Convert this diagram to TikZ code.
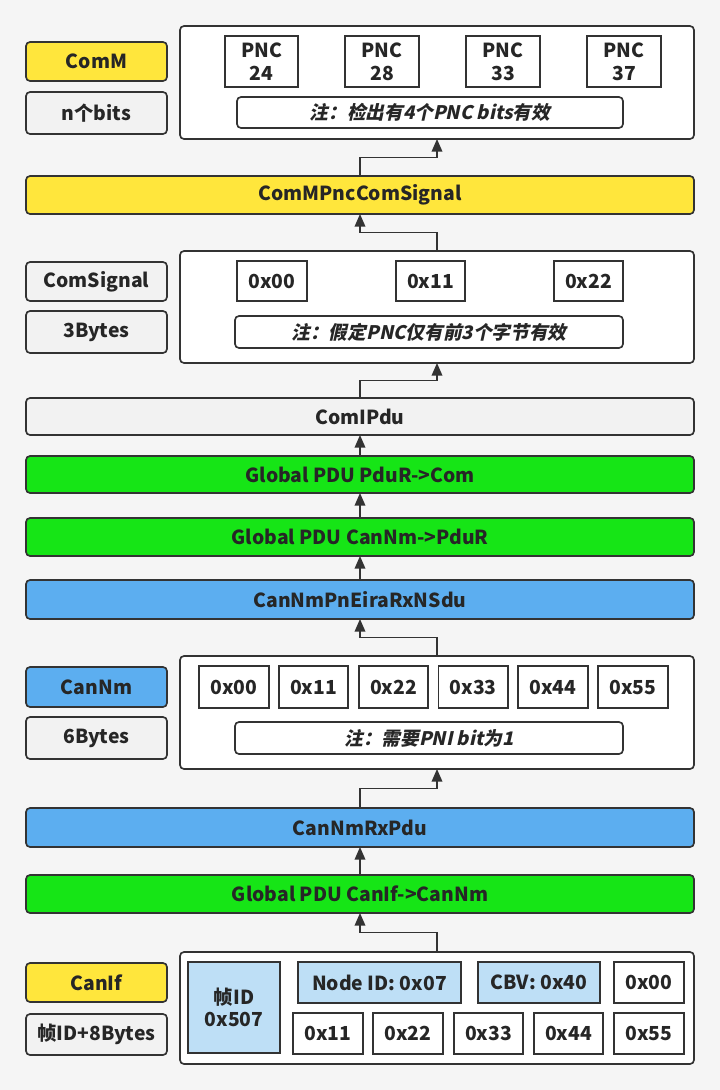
\documentclass[tikz,border=0pt]{standalone}
\usepackage{fontspec}
\setmainfont{Noto Sans CJK SC}
\newfontfamily\notefam[FakeSlant=0.22]{Noto Sans CJK SC}
\usetikzlibrary{arrows.meta,calc}
\definecolor{bgc}{HTML}{F5F5F5}
\definecolor{lc}{HTML}{333333}
\definecolor{tc}{HTML}{262626}
\definecolor{cyel}{HTML}{FFE63C}
\definecolor{cgry}{HTML}{F2F2F2}
\definecolor{cgrn}{HTML}{16E516}
\definecolor{cblu}{HTML}{5CAEF0}
\definecolor{clb}{HTML}{BEDFF6}
\newcommand\mybox[7]{\node[#1, minimum width={(#5-#3)*0.75pt}, minimum height={(#6-#4)*0.75pt}] (#2) at ({(#3+#5)/2},{(#4+#6)/2}) {#7};}
\tikzset{
  base/.style={draw=lc, line width=1.25pt, rounded corners=3pt, inner sep=0pt, outer sep=0pt, text=tc, align=center, font=\fontsize{14.5}{17}\selectfont\bfseries},
  ylw/.style={base, fill=cyel},
  gry/.style={base, fill=cgry},
  grn/.style={base, fill=cgrn},
  blu/.style={base, fill=cblu},
  cont/.style={base, fill=white},
  cell/.style={base, fill=white, rounded corners=0pt},
  lcell/.style={cell, fill=clb},
  notebox/.style={base, fill=white, font=\notefam\fontsize{14}{17}\selectfont\bfseries},
  arr/.style={draw=lc, line width=1.1pt, -{Triangle[width=8pt,length=9.5pt]}}
}
\begin{document}
\begin{tikzpicture}[x=0.75pt,y=-0.75pt]
\fill[bgc] (0,0) rectangle (720,1090);
\useasboundingbox (0,0) rectangle (720,1090);
% ComM layer
\mybox{cont}{topc}{180}{26}{694}{139}{}
\mybox{cell}{p24}{225}{36}{298}{87}{PNC\\24}
\mybox{cell}{p28}{345}{36}{419}{87}{PNC\\28}
\mybox{cell}{p33}{466}{36}{540}{87}{PNC\\33}
\mybox{cell}{p37}{587}{36}{661}{87}{PNC\\37}
\mybox{notebox}{n1}{237}{97}{623}{128}{注：检出有4个PNC bits有效}
\mybox{ylw}{comm}{26}{42}{167}{81}{ComM}
\mybox{gry}{nbits}{26}{92}{167}{134}{n个bits}
\mybox{ylw}{cms}{26}{176}{694}{214}{ComMPncComSignal}
% ComSignal layer
\mybox{cont}{csc}{180}{251}{694}{363}{}
\mybox{cell}{s00}{237}{261}{307}{301}{0x00}
\mybox{cell}{s11}{396}{261}{465}{301}{0x11}
\mybox{cell}{s22}{554}{261}{623}{301}{0x22}
\mybox{notebox}{n2}{235}{316}{623}{348}{注：假定PNC仅有前3个字节有效}
\mybox{gry}{csig}{26}{262}{167}{301}{ComSignal}
\mybox{gry}{b3}{26}{311}{167}{353}{3Bytes}
\mybox{gry}{cipdu}{26}{398}{694}{435}{ComIPdu}
\mybox{grn}{g1}{26}{456}{694}{493}{Global PDU PduR->Com}
\mybox{grn}{g2}{26}{518}{694}{556}{Global PDU CanNm->PduR}
\mybox{blu}{nsdu}{26}{580}{694}{619}{CanNmPnEiraRxNSdu}
% CanNm layer
\mybox{cont}{cnc}{180}{656}{694}{769}{}
\mybox{cell}{c00}{199}{666}{269}{708}{0x00}
\mybox{cell}{c11}{279}{666}{348}{708}{0x11}
\mybox{cell}{c22}{359}{666}{428}{708}{0x22}
\mybox{cell}{c33}{438.5}{666}{508}{708}{0x33}
\mybox{cell}{c44}{518}{666}{588}{708}{0x44}
\mybox{cell}{c55}{598}{666}{668}{708}{0x55}
\mybox{notebox}{n3}{235}{722}{623}{754}{注：需要PNI bit为1}
\mybox{blu}{cannm}{26}{667}{167}{707}{CanNm}
\mybox{gry}{b6}{26}{717}{167}{759}{6Bytes}
\mybox{blu}{rxpdu}{26}{808}{694}{847}{CanNmRxPdu}
\mybox{grn}{g3}{26}{875}{694}{913}{Global PDU CanIf->CanNm}
% CanIf layer
\mybox{cont}{cic}{180}{952}{694}{1064}{}
\mybox{lcell}{fid}{188}{962}{280}{1053}{帧ID\\0x507}
\mybox{lcell}{nid}{298}{962}{461}{1003}{Node ID: 0x07}
\mybox{lcell}{cbv}{478}{962}{600}{1003}{CBV: 0x40}
\mybox{cell}{f00}{614}{962}{684}{1003}{0x00}
\mybox{cell}{f11}{293}{1013}{363}{1054}{0x11}
\mybox{cell}{f22}{373}{1013}{443}{1054}{0x22}
\mybox{cell}{f33}{454}{1013}{523}{1054}{0x33}
\mybox{cell}{f44}{534}{1013}{603}{1054}{0x44}
\mybox{cell}{f55}{614}{1013}{684}{1054}{0x55}
\mybox{ylw}{canif}{26}{963}{167}{1002}{CanIf}
\mybox{gry}{fidl}{26}{1014}{167}{1055}{帧ID+8Bytes}
% connectors
\draw[arr] (cms.north) |- ($(cms.north)!.5!(topc.south)$) -| (topc.south);
\draw[arr] (csc.north) |- ($(csc.north)!.5!(cms.south)$) -| (cms.south);
\draw[arr] (cipdu.north) |- ($(cipdu.north)!.5!(csc.south)$) -| (csc.south);
\draw[arr] (g1.north) -- (cipdu.south);
\draw[arr] (g2.north) -- (g1.south);
\draw[arr] (nsdu.north) -- (g2.south);
\draw[arr] (cnc.north) |- ($(cnc.north)!.5!(nsdu.south)$) -| (nsdu.south);
\draw[arr] (rxpdu.north) |- ($(rxpdu.north)!.5!(cnc.south)$) -| (cnc.south);
\draw[arr] (g3.north) -- (rxpdu.south);
\draw[arr] (cic.north) |- ($(cic.north)!.5!(g3.south)$) -| (g3.south);
\end{tikzpicture}
\end{document}
